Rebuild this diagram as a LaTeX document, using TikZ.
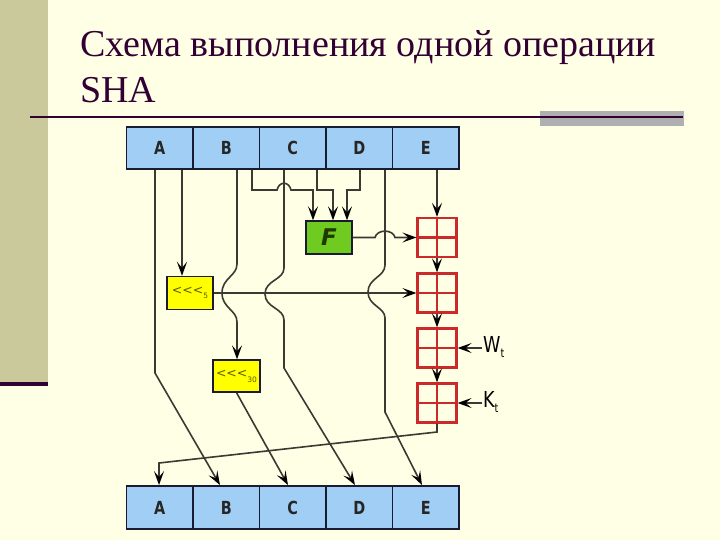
\documentclass[tikz,border=0pt]{standalone}
\usepackage{fontspec}
\setmainfont{Liberation Serif}
\newfontfamily\regfont[FakeStretch=0.8]{DejaVu Sans}
\newfontfamily\plainsans{DejaVu Sans}
\usetikzlibrary{arrows.meta,calc}
\definecolor{bgc}{HTML}{FFFFE6}
\definecolor{barc}{HTML}{C9C99B}
\definecolor{titc}{HTML}{330033}
\definecolor{greyc}{HTML}{B0B0B0}
\definecolor{regfill}{HTML}{A0CEF4}
\definecolor{regborder}{HTML}{1A1A30}
\definecolor{ffill}{HTML}{6FCB1F}
\definecolor{ftext}{HTML}{1E3A00}
\definecolor{yfill}{HTML}{FFFF00}
\definecolor{ytext}{HTML}{5C5C00}
\definecolor{redc}{HTML}{CC2A2A}
\definecolor{wirec}{HTML}{3A3A32}
\begin{document}
\begin{tikzpicture}[x=1pt,y=-1pt,
  title/.style={font=\fontsize{38}{40}\selectfont, text=titc, inner sep=0pt},
  reg/.style={draw=regborder, line width=1.8pt, fill=regfill, minimum width=66.5pt,
    minimum height=42pt, inner sep=0pt, font=\regfont\bfseries\fontsize{18}{18}\selectfont, text=black!85},
  fbox/.style={draw=regborder, line width=1.3pt, fill=ffill, minimum width=46pt,
    minimum height=33pt, inner sep=0pt, font=\plainsans\bfseries\itshape\fontsize{23}{23}\selectfont, text=ftext},
  ybox/.style={draw=regborder, line width=1.3pt, fill=yfill, minimum width=46pt,
    minimum height=33pt, inner sep=0pt, font=\plainsans\fontsize{12.5}{12.5}\selectfont, text=ytext},
  qbox/.style={draw=redc, line width=2.2pt, minimum width=39pt, minimum height=39pt, inner sep=0pt},
  qline/.style={draw=redc, line width=2.2pt},
  wire/.style={draw=wirec, line width=1.6pt},
  arr/.style={wire, -{Stealth[length=14pt,width=10pt,inset=6pt,black]}},
  lab/.style={font=\regfont\fontsize{22}{22}\selectfont, text=black, inner sep=0pt}
]
\useasboundingbox (0,0) rectangle (720,540);
\fill[bgc] (0,0) rectangle (720,540);
\fill[barc] (0,0) rectangle (48,382);
\fill[titc] (0,382) rectangle (48,386);
\fill[greyc] (540,111) rectangle (684,126);
\draw[titc, line width=2pt] (30,117) -- (683,117);

\node[title, anchor=base west] (t1) at (80,57) {Схема выполнения одной операции};
\node[title, anchor=base west] (t2) at (80,103) {SHA};

% top register
\node[reg] (tA) at (159.75,148) {A};
\node[reg] (tB) at (226.25,148) {B};
\node[reg] (tC) at (292.75,148) {C};
\node[reg] (tD) at (359.25,148) {D};
\node[reg] (tE) at (425.75,148) {E};
% bottom register
\node[reg, minimum height=43pt] (bA) at (159.75,507.5) {A};
\node[reg, minimum height=43pt] (bB) at (226.25,507.5) {B};
\node[reg, minimum height=43pt] (bC) at (292.75,507.5) {C};
\node[reg, minimum height=43pt] (bD) at (359.25,507.5) {D};
\node[reg, minimum height=43pt] (bE) at (425.75,507.5) {E};

\node[fbox] (F) at (329,237.5) {F};
\node[ybox] (r5) at (190,293) {<<<\raisebox{-4pt}{\fontsize{7.5}{7.5}\selectfont 5}};
\node[ybox, minimum width=47pt, minimum height=32pt] (r30) at (236.5,376) {<<<\raisebox{-5pt}{\fontsize{7.5}{7.5}\selectfont 30}};

% red adders
\foreach \n/\y in {q1/237.5, q2/293, q3/348, q4/403}{
  \node[qbox] (\n) at (437,\y) {};
  \draw[qline] (\n.north) -- (\n.south);
  \draw[qline] (\n.west) -- (\n.east);
}

% wires
\draw[arr] ($(tA.south)+(-4.75,0)$) -- (155,373) -- ($(bB.north)+(-6.25,0)$);
\draw[arr] ($(tA.south)+(22.25,0)$) -- ($(r5.north)+(-8,0)$);
\draw[arr] ($(tB.south)+(10.75,0)$) -- (237,264) .. controls (237,276) and (222,278) .. (222,293)
   .. controls (222,308) and (237,310) .. (237,322) -- ($(r30.north)+(0.5,0)$);
\draw[arr] ($(tB.south)+(25.75,0)$) -- (252,190) -- (277,190) .. controls (279,181) and (289,181) .. (291,190)
   -- (313,190) -- ($(F.north)+(-16,0)$);
\draw[arr] ($(tC.south)+(-8.75,0)$) -- (284,268) .. controls (284,280) and (265,280) .. (265,294)
   .. controls (265,308) and (284,308) .. (284,320) -- (284,368) -- ($(bD.north)+(-4.25,0)$);
\draw[arr] ($(tC.south)+(24.25,0)$) -- (317,190) -- (333,190) -- ($(F.north)+(4,0)$);
\draw[arr] ($(tD.south)+(0.75,0)$) -- (360,190) -- (347,190) -- ($(F.north)+(18,0)$);
\draw[arr] ($(tD.south)+(25.75,0)$) -- (385,265) .. controls (385,277) and (368,278) .. (368,292)
   .. controls (368,306) and (385,307) .. (385,318) -- (385,412) -- ($(bE.north)+(-3.75,0)$);
\draw[arr] ($(tE.south)+(11.25,0)$) -- (q1.north);

\draw[arr] (F.east) -- (375,237.5) .. controls (377,229) and (393,229) .. (395,237.5) -- (q1.west);
\draw[arr] (r5.east) -- (q2.west);
\draw[arr] (q1.south) -- (q2.north);
\draw[arr] (q2.south) -- (q3.north);
\draw[arr] (q3.south) -- (q4.north);

\coordinate (wt) at (482,348);
\coordinate (kt) at (482,403);
\draw[arr] (wt) -- (q3.east);
\draw[arr] (kt) -- (q4.east);
\node[lab, anchor=west] (wl) at (483,347) {W\raisebox{-5pt}{\fontsize{12}{12}\selectfont t}};
\node[lab, anchor=west] (kl) at (483,402) {K\raisebox{-5pt}{\fontsize{12}{12}\selectfont t}};

\draw[arr] (r30.south) -- ($(bC.north)+(-4.75,0)$);
\draw[arr] (q4.south) -- (437,432) -- (159,463) -- ($(bA.north)+(-0.75,0)$);
\end{tikzpicture}
\end{document}
